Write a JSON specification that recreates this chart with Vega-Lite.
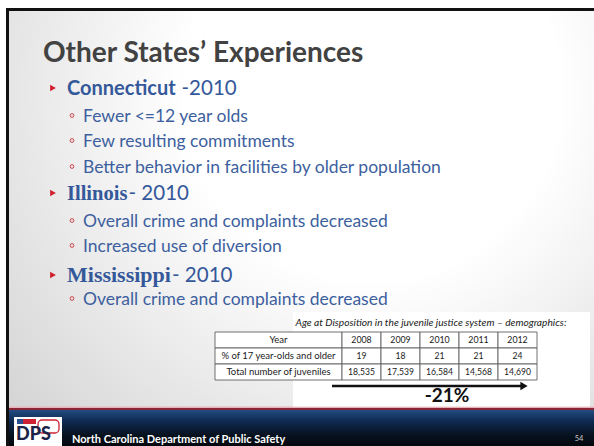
{
  "$schema": "https://vega.github.io/schema/vega-lite/v6.json",
  "width": 594,
  "height": 446,
  "autosize": {"type": "fit", "contains": "padding"},
  "padding": 0,
  "background": "#ffffff",
  "config": {"view": {"stroke": null}, "axis": {"disable": true}, "legend": {"disable": true}},
  "datasets": {
    "title": [{"text": "Other States’ Experiences"}],
    "bullets": [
      {"line": 1, "level": 1, "text": "Connecticut", "suffix": "-2010"},
      {"line": 2, "level": 2, "text": "Fewer <=12 year olds"},
      {"line": 3, "level": 2, "text": "Few resulting commitments"},
      {"line": 4, "level": 2, "text": "Better behavior in facilities by older population"},
      {"line": 5, "level": 1, "text": "Illinois", "suffix": "- 2010"},
      {"line": 6, "level": 2, "text": "Overall crime and complaints decreased"},
      {"line": 7, "level": 2, "text": "Increased use of diversion"},
      {"line": 8, "level": 1, "text": "Mississippi", "suffix": "- 2010"},
      {"line": 9, "level": 2, "text": "Overall crime and complaints decreased"}
    ],
    "table": [
      {"year": "2008", "measure": "% of 17 year-olds and older", "value": 19},
      {"year": "2009", "measure": "% of 17 year-olds and older", "value": 18},
      {"year": "2010", "measure": "% of 17 year-olds and older", "value": 21},
      {"year": "2011", "measure": "% of 17 year-olds and older", "value": 21},
      {"year": "2012", "measure": "% of 17 year-olds and older", "value": 24},
      {"year": "2008", "measure": "Total number of juveniles", "value": 18535},
      {"year": "2009", "measure": "Total number of juveniles", "value": 17539},
      {"year": "2010", "measure": "Total number of juveniles", "value": 16584},
      {"year": "2011", "measure": "Total number of juveniles", "value": 14568},
      {"year": "2012", "measure": "Total number of juveniles", "value": 14690}
    ],
    "rowlabels": [
      {"row": "Year"},
      {"row": "% of 17 year-olds and older"},
      {"row": "Total number of juveniles"}
    ],
    "caption": [{"text": "Age at Disposition in the juvenile justice system – demographics:"}],
    "change": [{"text": "-21%"}],
    "footer": [{"org": "North Carolina Department of Public Safety", "logo": "DPS", "page": "54"}]
  },
  "resolve": {"scale": {"x": "independent", "y": "independent", "size": "independent"}},
  "layer": [
    {
      "data": {"values": [{}]},
      "mark": {"type": "rect", "fill": {"gradient": "radial", "x1": 0.62, "y1": 0.3, "r1": 0, "x2": 0.62, "y2": 0.3, "r2": 0.8, "stops": [{"offset": 0, "color": "#ffffff"}, {"offset": 0.4, "color": "#ffffff"}, {"offset": 1, "color": "#d6d6d6"}]}},
      "encoding": {
        "x": {"datum": 9, "scale": {"domain": [0, 594], "range": [0, 594], "nice": false, "zero": false}},
        "x2": {"datum": 594},
        "y": {"datum": 11, "scale": {"domain": [0, 446], "range": [0, 446], "nice": false, "zero": false}},
        "y2": {"datum": 408}
      }
    },
    {
      "data": {"values": [{}]},
      "mark": {"type": "rect", "fill": "#111111"},
      "encoding": {
        "x": {"datum": 6, "scale": {"domain": [0, 594], "range": [0, 594], "nice": false, "zero": false}},
        "x2": {"datum": 594},
        "y": {"datum": 8, "scale": {"domain": [0, 446], "range": [0, 446], "nice": false, "zero": false}},
        "y2": {"datum": 11}
      }
    },
    {
      "data": {"values": [{}]},
      "mark": {"type": "rect", "fill": "#111111"},
      "encoding": {
        "x": {"datum": 6, "scale": {"domain": [0, 594], "range": [0, 594], "nice": false, "zero": false}},
        "x2": {"datum": 9},
        "y": {"datum": 8, "scale": {"domain": [0, 446], "range": [0, 446], "nice": false, "zero": false}},
        "y2": {"datum": 446}
      }
    },
    {
      "data": {"values": [{}]},
      "mark": {"type": "rect", "fill": {"gradient": "linear", "x1": 0, "y1": 0, "x2": 0, "y2": 1, "stops": [{"offset": 0, "color": "#234c82"}, {"offset": 0.3, "color": "#0f2a52"}, {"offset": 0.7, "color": "#07121f"}, {"offset": 1, "color": "#03070d"}]}},
      "encoding": {
        "x": {"datum": 9, "scale": {"domain": [0, 594], "range": [0, 594], "nice": false, "zero": false}},
        "x2": {"datum": 594},
        "y": {"datum": 410, "scale": {"domain": [0, 446], "range": [0, 446], "nice": false, "zero": false}},
        "y2": {"datum": 446}
      }
    },
    {
      "data": {"values": [{}]},
      "mark": {"type": "rect", "fill": "#e6b3b8"},
      "encoding": {
        "x": {"datum": 9, "scale": {"domain": [0, 594], "range": [0, 594], "nice": false, "zero": false}},
        "x2": {"datum": 594},
        "y": {"datum": 406.5, "scale": {"domain": [0, 446], "range": [0, 446], "nice": false, "zero": false}},
        "y2": {"datum": 408}
      }
    },
    {
      "data": {"values": [{}]},
      "mark": {"type": "rect", "fill": "#8c2436"},
      "encoding": {
        "x": {"datum": 9, "scale": {"domain": [0, 594], "range": [0, 594], "nice": false, "zero": false}},
        "x2": {"datum": 594},
        "y": {"datum": 408, "scale": {"domain": [0, 446], "range": [0, 446], "nice": false, "zero": false}},
        "y2": {"datum": 410}
      }
    },
    {
      "data": {"values": [{}]},
      "mark": {"type": "rect", "fill": "#ffffff"},
      "encoding": {
        "x": {"datum": 293, "scale": {"domain": [0, 594], "range": [0, 594], "nice": false, "zero": false}},
        "x2": {"datum": 590},
        "y": {"datum": 312, "scale": {"domain": [0, 446], "range": [0, 446], "nice": false, "zero": false}},
        "y2": {"datum": 406.5}
      }
    },
    {
      "data": {"name": "title"},
      "mark": {"type": "text", "font": "Lato", "fontSize": 28, "fontWeight": "bold", "color": "#424242", "align": "left", "baseline": "alphabetic"},
      "encoding": {
        "x": {"datum": 43, "scale": {"domain": [0, 594], "range": [0, 594], "nice": false, "zero": false}},
        "y": {"datum": 62, "scale": {"domain": [0, 446], "range": [0, 446], "nice": false, "zero": false}},
        "text": {"field": "text"}
      }
    },
    {
      "data": {"name": "bullets"},
      "transform": [{"filter": "datum.level == 1"}],
      "mark": {"type": "point", "shape": "triangle-right", "filled": true, "size": 45, "color": "#d0202e", "opacity": 1, "yOffset": -7},
      "encoding": {
        "x": {"datum": 53, "scale": {"domain": [0, 594], "range": [0, 594], "nice": false, "zero": false}},
        "y": {"field": "line", "type": "quantitative", "scale": {"domain": [1, 2, 3, 4, 5, 6, 7, 8, 9], "range": [95, 122, 147, 173, 200, 227, 252, 282, 305], "nice": false, "zero": false}}
      }
    },
    {
      "data": {"name": "bullets"},
      "transform": [{"filter": "datum.level == 2"}],
      "mark": {"type": "point", "shape": "circle", "filled": false, "size": 14, "strokeWidth": 1, "color": "#d0404a", "opacity": 1, "yOffset": -6.5},
      "encoding": {
        "x": {"datum": 72, "scale": {"domain": [0, 594], "range": [0, 594], "nice": false, "zero": false}},
        "y": {"field": "line", "type": "quantitative", "scale": {"domain": [1, 2, 3, 4, 5, 6, 7, 8, 9], "range": [95, 122, 147, 173, 200, 227, 252, 282, 305], "nice": false, "zero": false}}
      }
    },
    {
      "data": {"name": "bullets"},
      "transform": [{"filter": "datum.level == 2"}],
      "mark": {"type": "text", "font": "Lato", "fontSize": 17.5, "color": "#3d5f9e", "align": "left", "baseline": "alphabetic"},
      "encoding": {
        "x": {"datum": 83, "scale": {"domain": [0, 594], "range": [0, 594], "nice": false, "zero": false}},
        "y": {"field": "line", "type": "quantitative", "scale": {"domain": [1, 2, 3, 4, 5, 6, 7, 8, 9], "range": [95, 122, 147, 173, 200, 227, 252, 282, 305], "nice": false, "zero": false}},
        "text": {"field": "text"}
      }
    },
    {
      "data": {"name": "bullets"},
      "transform": [{"filter": "datum.text == 'Connecticut'"}],
      "mark": {"type": "text", "font": "Lato", "fontSize": 20, "fontWeight": "bold", "color": "#34589a", "align": "left", "baseline": "alphabetic"},
      "encoding": {
        "x": {"datum": 67, "scale": {"domain": [0, 594], "range": [0, 594], "nice": false, "zero": false}},
        "y": {"field": "line", "type": "quantitative", "scale": {"domain": [1, 2, 3, 4, 5, 6, 7, 8, 9], "range": [95, 122, 147, 173, 200, 227, 252, 282, 305], "nice": false, "zero": false}},
        "text": {"field": "text"}
      }
    },
    {
      "data": {"name": "bullets"},
      "transform": [{"filter": "datum.level == 1 && datum.text != 'Connecticut'"}],
      "mark": {"type": "text", "font": "Liberation Serif", "fontWeight": "bold", "color": "#34589a", "align": "left", "baseline": "alphabetic"},
      "encoding": {
        "x": {"datum": 67, "scale": {"domain": [0, 594], "range": [0, 594], "nice": false, "zero": false}},
        "y": {"field": "line", "type": "quantitative", "scale": {"domain": [1, 2, 3, 4, 5, 6, 7, 8, 9], "range": [95, 122, 147, 173, 200, 227, 252, 282, 305], "nice": false, "zero": false}},
        "size": {"field": "line", "type": "quantitative", "scale": {"domain": [5, 8], "range": [20.5, 22], "zero": false, "nice": false}, "legend": null},
        "text": {"field": "text"}
      }
    },
    {
      "data": {"name": "bullets"},
      "transform": [{"filter": "datum.level == 1"}],
      "mark": {"type": "text", "font": "Lato", "fontSize": 20.5, "color": "#34589a", "align": "left", "baseline": "alphabetic"},
      "encoding": {
        "x": {"field": "line", "type": "quantitative", "scale": {"domain": [1, 5, 8], "range": [181.5, 128.5, 172], "nice": false, "zero": false}},
        "y": {"field": "line", "type": "quantitative", "scale": {"domain": [1, 2, 3, 4, 5, 6, 7, 8, 9], "range": [95, 122, 147, 173, 200, 227, 252, 282, 305], "nice": false, "zero": false}},
        "text": {"field": "suffix"}
      }
    },
    {
      "data": {"name": "caption"},
      "mark": {"type": "text", "font": "Lato", "fontSize": 10.2, "fontStyle": "italic", "color": "#1a1a1a", "align": "center", "baseline": "alphabetic"},
      "encoding": {
        "x": {"datum": 431, "scale": {"domain": [0, 594], "range": [0, 594], "nice": false, "zero": false}},
        "y": {"datum": 326, "scale": {"domain": [0, 446], "range": [0, 446], "nice": false, "zero": false}},
        "text": {"field": "text"}
      }
    },
    {
      "data": {"name": "rowlabels"},
      "mark": {"type": "rect", "fill": "#ffffff", "stroke": "#606060", "strokeWidth": 0.9},
      "encoding": {
        "x": {"datum": 215, "scale": {"domain": [0, 594], "range": [0, 594], "nice": false, "zero": false}},
        "x2": {"datum": 342},
        "y": {"field": "row", "type": "nominal", "scale": {"type": "band", "domain": ["Year", "% of 17 year-olds and older", "Total number of juveniles"], "range": [332, 380], "paddingInner": 0, "paddingOuter": 0}}
      }
    },
    {
      "data": {"name": "table"},
      "transform": [{"filter": "datum.measure == 'Total number of juveniles'"}],
      "mark": {"type": "rect", "fill": "#ffffff", "stroke": "#606060", "strokeWidth": 0.9},
      "encoding": {
        "x": {"field": "year", "type": "nominal", "scale": {"type": "band", "domain": ["2008", "2009", "2010", "2011", "2012"], "range": [342, 537], "paddingInner": 0, "paddingOuter": 0}},
        "y": {"datum": "Year", "type": "nominal", "scale": {"type": "band", "domain": ["Year", "% of 17 year-olds and older", "Total number of juveniles"], "range": [332, 380], "paddingInner": 0, "paddingOuter": 0}}
      }
    },
    {
      "data": {"name": "table"},
      "mark": {"type": "rect", "fill": "#ffffff", "stroke": "#606060", "strokeWidth": 0.9},
      "encoding": {
        "x": {"field": "year", "type": "nominal", "scale": {"type": "band", "domain": ["2008", "2009", "2010", "2011", "2012"], "range": [342, 537], "paddingInner": 0, "paddingOuter": 0}},
        "y": {"field": "measure", "type": "nominal", "scale": {"type": "band", "domain": ["Year", "% of 17 year-olds and older", "Total number of juveniles"], "range": [332, 380], "paddingInner": 0, "paddingOuter": 0}}
      }
    },
    {
      "data": {"name": "rowlabels"},
      "mark": {"type": "text", "font": "Lato", "fontSize": 9.5, "color": "#1a1a1a", "align": "center", "baseline": "middle"},
      "encoding": {
        "x": {"datum": 278.5, "scale": {"domain": [0, 594], "range": [0, 594], "nice": false, "zero": false}},
        "y": {"field": "row", "type": "nominal", "scale": {"type": "band", "domain": ["Year", "% of 17 year-olds and older", "Total number of juveniles"], "range": [332, 380], "paddingInner": 0, "paddingOuter": 0}},
        "text": {"field": "row"}
      }
    },
    {
      "data": {"name": "table"},
      "transform": [{"filter": "datum.measure == 'Total number of juveniles'"}],
      "mark": {"type": "text", "font": "Lato", "fontSize": 8.8, "color": "#1a1a1a", "align": "center", "baseline": "middle"},
      "encoding": {
        "x": {"field": "year", "type": "nominal", "scale": {"type": "band", "domain": ["2008", "2009", "2010", "2011", "2012"], "range": [342, 537], "paddingInner": 0, "paddingOuter": 0}},
        "y": {"datum": "Year", "type": "nominal", "scale": {"type": "band", "domain": ["Year", "% of 17 year-olds and older", "Total number of juveniles"], "range": [332, 380], "paddingInner": 0, "paddingOuter": 0}},
        "text": {"field": "year"}
      }
    },
    {
      "data": {"name": "table"},
      "mark": {"type": "text", "font": "Lato", "fontSize": 8.6, "color": "#1a1a1a", "align": "center", "baseline": "middle"},
      "encoding": {
        "x": {"field": "year", "type": "nominal", "scale": {"type": "band", "domain": ["2008", "2009", "2010", "2011", "2012"], "range": [342, 537], "paddingInner": 0, "paddingOuter": 0}},
        "y": {"field": "measure", "type": "nominal", "scale": {"type": "band", "domain": ["Year", "% of 17 year-olds and older", "Total number of juveniles"], "range": [332, 380], "paddingInner": 0, "paddingOuter": 0}},
        "text": {"field": "value", "type": "quantitative", "format": ","}
      }
    },
    {
      "data": {"values": [{}]},
      "mark": {"type": "rule", "color": "#111111", "strokeWidth": 2.5},
      "encoding": {
        "x": {"datum": 332, "scale": {"domain": [0, 594], "range": [0, 594], "nice": false, "zero": false}},
        "x2": {"datum": 522},
        "y": {"datum": 386, "scale": {"domain": [0, 446], "range": [0, 446], "nice": false, "zero": false}}
      }
    },
    {
      "data": {"values": [{}]},
      "mark": {"type": "point", "shape": "triangle-right", "filled": true, "size": 70, "color": "#111111", "opacity": 1},
      "encoding": {
        "x": {"datum": 524, "scale": {"domain": [0, 594], "range": [0, 594], "nice": false, "zero": false}},
        "y": {"datum": 386, "scale": {"domain": [0, 446], "range": [0, 446], "nice": false, "zero": false}}
      }
    },
    {
      "data": {"name": "change"},
      "mark": {"type": "text", "font": "Lato", "fontSize": 19, "fontWeight": "bold", "color": "#111111", "align": "center", "baseline": "alphabetic"},
      "encoding": {
        "x": {"datum": 447, "scale": {"domain": [0, 594], "range": [0, 594], "nice": false, "zero": false}},
        "y": {"datum": 402, "scale": {"domain": [0, 446], "range": [0, 446], "nice": false, "zero": false}},
        "text": {"field": "text"}
      }
    },
    {
      "data": {"values": [{}]},
      "mark": {"type": "rect", "fill": "#ffffff"},
      "encoding": {
        "x": {"datum": 14, "scale": {"domain": [0, 594], "range": [0, 594], "nice": false, "zero": false}},
        "x2": {"datum": 62},
        "y": {"datum": 417, "scale": {"domain": [0, 446], "range": [0, 446], "nice": false, "zero": false}},
        "y2": {"datum": 446}
      }
    },
    {
      "data": {"values": [{}]},
      "mark": {"type": "rect", "fill": "none", "stroke": "#cc2233", "strokeWidth": 1.3, "cornerRadius": 4},
      "encoding": {
        "x": {"datum": 38, "scale": {"domain": [0, 594], "range": [0, 594], "nice": false, "zero": false}},
        "x2": {"datum": 59},
        "y": {"datum": 420, "scale": {"domain": [0, 446], "range": [0, 446], "nice": false, "zero": false}},
        "y2": {"datum": 433}
      }
    },
    {
      "data": {"values": [{}]},
      "mark": {"type": "rect", "fill": "#2b4f8f"},
      "encoding": {
        "x": {"datum": 17, "scale": {"domain": [0, 594], "range": [0, 594], "nice": false, "zero": false}},
        "x2": {"datum": 23},
        "y": {"datum": 419, "scale": {"domain": [0, 446], "range": [0, 446], "nice": false, "zero": false}},
        "y2": {"datum": 424}
      }
    },
    {
      "data": {"values": [{}]},
      "mark": {"type": "rect", "fill": "#cc2233"},
      "encoding": {
        "x": {"datum": 23, "scale": {"domain": [0, 594], "range": [0, 594], "nice": false, "zero": false}},
        "x2": {"datum": 36},
        "y": {"datum": 419, "scale": {"domain": [0, 446], "range": [0, 446], "nice": false, "zero": false}},
        "y2": {"datum": 424}
      }
    },
    {
      "data": {"name": "footer"},
      "mark": {"type": "text", "font": "Lato", "fontSize": 18, "fontWeight": 900, "color": "#1b2348", "align": "left", "baseline": "alphabetic"},
      "encoding": {
        "x": {"datum": 16, "scale": {"domain": [0, 594], "range": [0, 594], "nice": false, "zero": false}},
        "y": {"datum": 440, "scale": {"domain": [0, 446], "range": [0, 446], "nice": false, "zero": false}},
        "text": {"field": "logo"}
      }
    },
    {
      "data": {"name": "footer"},
      "mark": {"type": "text", "font": "Lato", "fontSize": 11, "fontWeight": "bold", "color": "#ffffff", "align": "left", "baseline": "alphabetic"},
      "encoding": {
        "x": {"datum": 72, "scale": {"domain": [0, 594], "range": [0, 594], "nice": false, "zero": false}},
        "y": {"datum": 443, "scale": {"domain": [0, 446], "range": [0, 446], "nice": false, "zero": false}},
        "text": {"field": "org"}
      }
    },
    {
      "data": {"name": "footer"},
      "mark": {"type": "text", "font": "Lato", "fontSize": 7.5, "color": "#c8c8c8", "align": "center", "baseline": "alphabetic"},
      "encoding": {
        "x": {"datum": 579, "scale": {"domain": [0, 594], "range": [0, 594], "nice": false, "zero": false}},
        "y": {"datum": 441, "scale": {"domain": [0, 446], "range": [0, 446], "nice": false, "zero": false}},
        "text": {"field": "page"}
      }
    }
  ]
}
